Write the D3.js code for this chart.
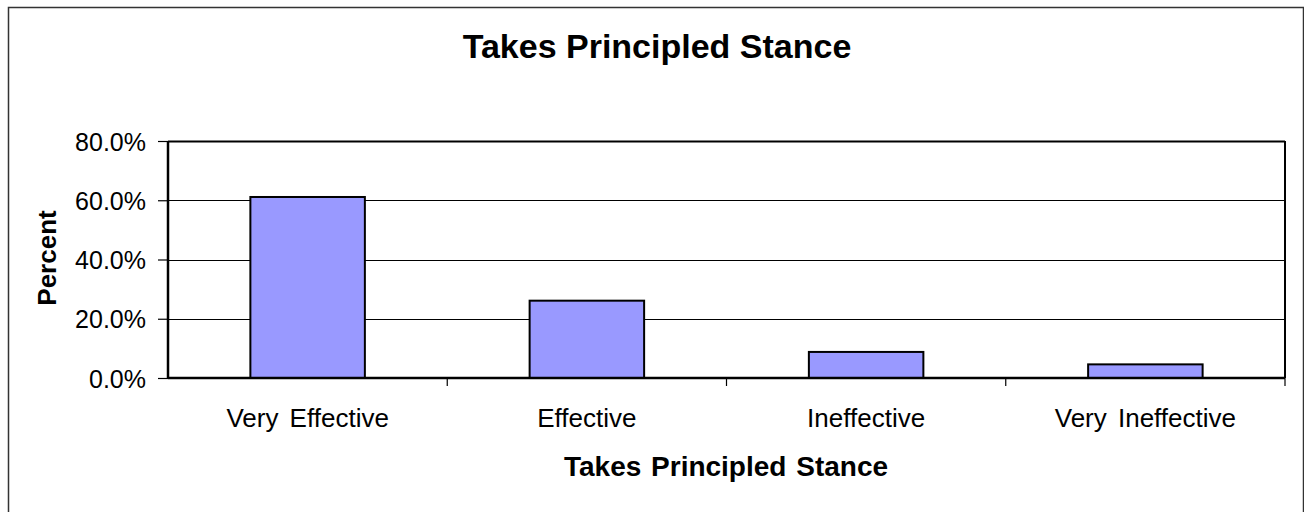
<!DOCTYPE html>
<html>
<head>
<meta charset="utf-8">
<script src="https://cdn.jsdelivr.net/npm/d3@7"></script>
<style>
  body { margin: 0; background: #fff; }
  svg text { font-family: "Liberation Sans", Arial, sans-serif; fill: #000; }
</style>
</head>
<body>
<div id="chart"></div>
<script>
// data
var categories = ["Very Effective", "Effective", "Ineffective", "Very Ineffective"];
var percents = [0.611, 0.261, 0.088, 0.046];
var yTicks = [0, 0.2, 0.4, 0.6, 0.8];
var chartTitle = "Takes Principled Stance";
var xTitle = "Takes Principled Stance";
var yTitle = "Percent";

var W = 1304, H = 512;
// plot area
var margin = {top: 141, right: 19, bottom: 134, left: 168},
    width = W - margin.left - margin.right,
    height = H - margin.top - margin.bottom;

var svg = d3.select("#chart")
  .append("svg")
    .attr("width", W)
    .attr("height", H);

// outer chart border
svg.append("rect")
  .attr("x", 8.5).attr("y", 7.5)
  .attr("width", 1295).attr("height", 520)
  .attr("fill", "none")
  .attr("stroke", "#333")
  .attr("stroke-width", 1.5);

var g = svg.append("g")
  .attr("transform", "translate(" + margin.left + "," + margin.top + ")");

var x = d3.scaleBand()
  .domain(categories)
  .range([0, width])
  .paddingInner(0.59)
  .paddingOuter(0.295);

var y = d3.scaleLinear()
  .domain([0, 0.8])
  .range([height, 0]);

// gridlines
g.append("g")
  .selectAll("line")
  .data(yTicks.filter(function(d) { return d > 0; }))
  .enter().append("line")
    .attr("x1", 0).attr("x2", width)
    .attr("y1", function(d) { return Math.round(y(d)) + 0.5; })
    .attr("y2", function(d) { return Math.round(y(d)) + 0.5; })
    .attr("stroke", "#000")
    .attr("stroke-width", 1);

// right border of plot
g.append("line")
  .attr("x1", width).attr("x2", width)
  .attr("y1", 0).attr("y2", height)
  .attr("stroke", "#000").attr("stroke-width", 2);

// bars
g.selectAll("rect.bar")
  .data(percents)
  .enter().append("rect")
    .attr("class", "bar")
    .attr("x", function(d, i) { return x(categories[i]); })
    .attr("y", function(d) { return y(d); })
    .attr("width", x.bandwidth())
    .attr("height", function(d) { return height - y(d); })
    .attr("fill", "#9999FF")
    .attr("stroke", "#000")
    .attr("stroke-width", 2);

// Y axis
var yAxis = g.append("g")
  .call(d3.axisLeft(y).tickValues(yTicks).tickFormat(d3.format(".1%")).tickSize(10).tickPadding(12));
yAxis.select(".domain").attr("stroke-width", 2.5).attr("d", "M0,0V" + height);
yAxis.selectAll(".tick line").attr("stroke-width", 1.2);
yAxis.selectAll("text")
  .style("font-size", "25px")
  .attr("dy", "0.36em");

// X axis, ticks at category boundaries
var bounds = categories.map(function(c) { return x(c) - x.step() * x.paddingInner() / 2; }).concat([width]);
var xAxis = g.append("g")
  .attr("transform", "translate(0," + height + ")");
xAxis.append("line")
  .attr("x1", 0).attr("x2", width)
  .attr("y1", 0).attr("y2", 0)
  .attr("stroke", "#000").attr("stroke-width", 2.5);
xAxis.selectAll("line.tk")
  .data(bounds.slice(1))
  .enter().append("line")
    .attr("class", "tk")
    .attr("x1", function(d) { return d; }).attr("x2", function(d) { return d; })
    .attr("y1", 0).attr("y2", 8)
    .attr("stroke", "#000").attr("stroke-width", 1.2);
xAxis.selectAll("text")
  .data(categories)
  .enter().append("text")
    .attr("x", function(d) { return x(d) + x.bandwidth() / 2; })
    .attr("y", 49)
    .attr("text-anchor", "middle")
    .style("font-size", "26px")
    .style("word-spacing", "4px")
    .text(function(d) { return d; });

// top border of plot
g.append("line")
  .attr("x1", 0).attr("x2", width)
  .attr("y1", 0.5).attr("y2", 0.5)
  .attr("stroke", "#000").attr("stroke-width", 2);

// titles
svg.append("text")
  .attr("x", 657)
  .attr("y", 58)
  .attr("text-anchor", "middle")
  .style("font-size", "34px")
  .style("font-weight", "bold")
  .text(chartTitle);

svg.append("text")
  .attr("x", 726)
  .attr("y", 476)
  .attr("text-anchor", "middle")
  .style("font-size", "28px")
  .style("font-weight", "bold")
  .style("word-spacing", "2px")
  .text(xTitle);

svg.append("text")
  .attr("transform", "translate(56,258) rotate(-90)")
  .attr("text-anchor", "middle")
  .style("font-size", "26px")
  .style("font-weight", "bold")
  .text(yTitle);
</script>
</body>
</html>
